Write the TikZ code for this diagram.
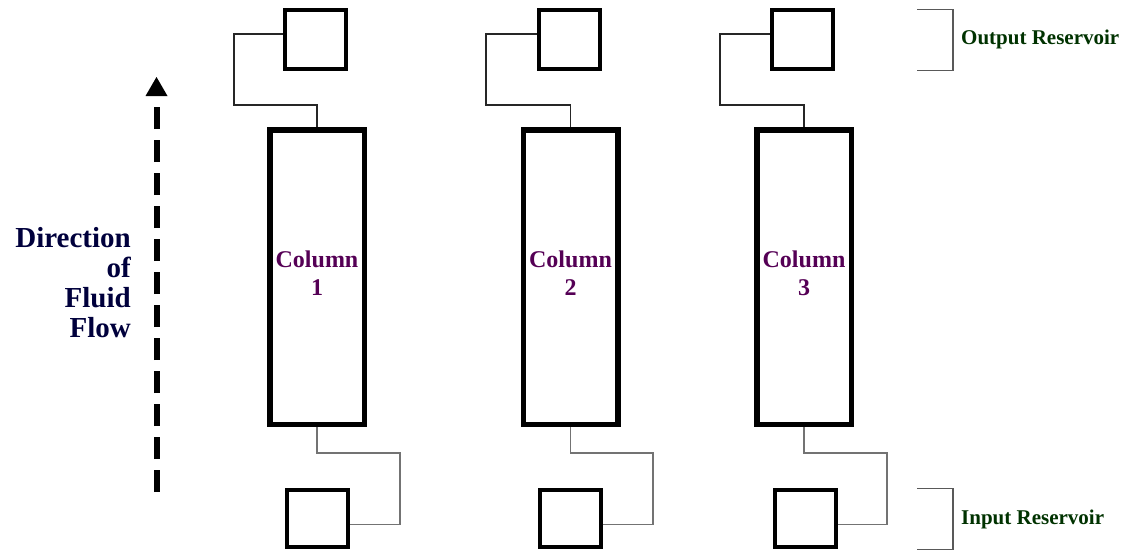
\documentclass[tikz,border=0pt]{standalone}
\usepackage{fontspec}
\setmainfont{Liberation Serif}
\definecolor{flowtext}{RGB}{0,0,60}
\definecolor{coltext}{RGB}{85,0,85}
\definecolor{restext}{RGB}{0,50,0}
\tikzset{
  reservoir/.style={draw, line width=4pt, minimum width=61pt, inner sep=0pt},
  column/.style={draw, line width=5.5pt, minimum width=94.5pt, minimum height=294.5pt, inner sep=0pt},
  pipeout/.style={line width=1.1pt, black!85},
  pipein/.style={line width=1.2pt, black!55},
  bracket/.style={line width=1.2pt, black!65},
  collabel/.style={font=\fontsize{24}{28}\selectfont\bfseries, text=coltext, align=center, inner sep=0pt},
  reslabel/.style={font=\fontsize{21}{24}\selectfont\bfseries, text=restext, anchor=west, inner sep=0pt},
  flowlabel/.style={font=\fontsize{29}{30}\selectfont\bfseries, text=flowtext, align=right, inner sep=0pt},
  flowline/.style={line width=6pt, dash pattern=on 22pt off 11pt},
}
\begin{document}
\begin{tikzpicture}[x=1pt, y=-1pt]
  \useasboundingbox (0,0) rectangle (1131,552);

  % three columns, each fed from below and draining to a reservoir above
  \foreach \i/\tx/\cx/\bx/\lx/\rx in {1/315.5/317/317.5/234/400, 2/569/570.5/570.5/486/653, 3/802.5/804/805/720/887}{
    \node[reservoir, minimum height=59pt] (out\i) at (\tx,39.5) {};
    \node[column] (col\i) at (\cx,277) {};
    \node[reservoir, minimum height=57pt] (in\i) at (\bx,518.5) {};
    \node[collabel] (lab\i) at ([yshift=4pt]col\i.center) {Column\\\i};
    \draw[pipeout] ([yshift=5.5pt]out\i.west) -| (\lx,105) -| (col\i.north);
    \draw[pipein] (col\i.south) |- (\rx,453) |- ([yshift=-6pt]in\i.east);
  }

  % reservoir brackets and labels
  \draw[bracket] (917,9.5) -- (953,9.5) -- (953,70.5) -- (917,70.5);
  \node[reslabel] (outlab) at (961,39.5) {Output Reservoir};
  \draw[bracket] (917,488.5) -- (953,488.5) -- (953,549.5) -- (917,549.5);
  \node[reslabel] (inlab) at (961,519) {Input Reservoir};

  % flow direction arrow
  \coordinate (flowbot) at (156.5,492);
  \coordinate (flowtop) at (156.5,107);
  \coordinate (flowtip) at (156.5,77);
  \draw[flowline] (flowbot) -- (flowtop);
  \fill (flowtip) -- ++(-11,19) -- ++(22,0) -- cycle;
  \node[flowlabel, anchor=north east] (flowlab) at (131,227) {Direction\\of\\Fluid\\Flow};
\end{tikzpicture}
\end{document}
